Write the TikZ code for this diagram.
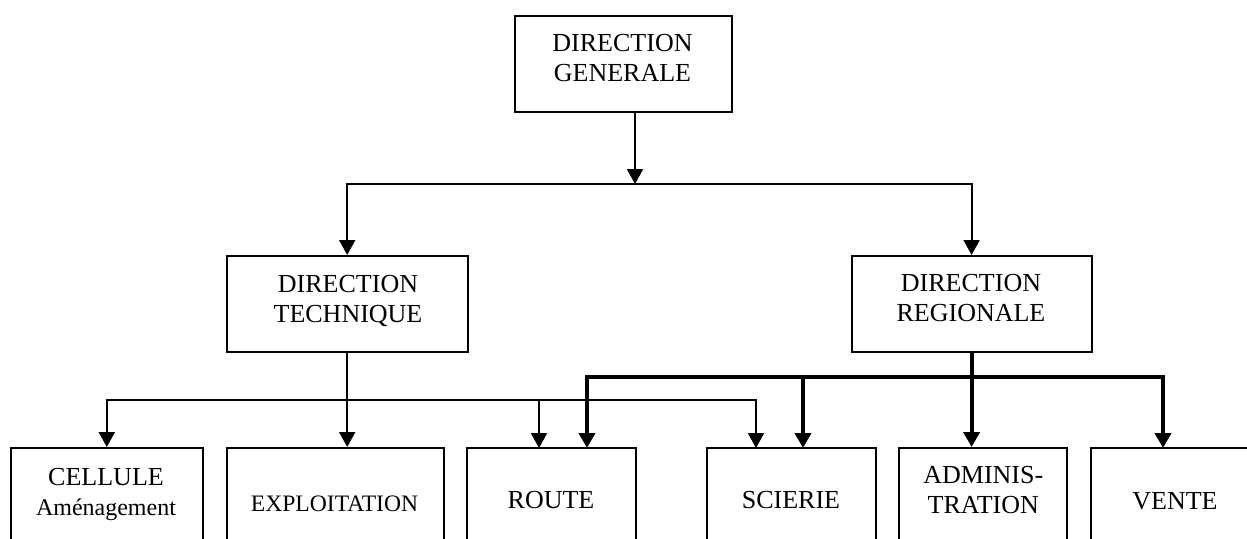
\documentclass[tikz,border=0pt]{standalone}
\usepackage{fontspec}
\setmainfont{Liberation Serif}
\usetikzlibrary{arrows.meta}
\begin{document}
\begin{tikzpicture}[x=1pt,y=-1pt,
  box/.style={draw,line width=2pt,inner sep=0pt},
  lbl/.style={align=center,font=\fontsize{26}{30}\selectfont,inner sep=0pt},
  thinarr/.style={line width=2pt,-{Triangle[length=15pt 0 1,width=16pt 0 1]}},
  thickarr/.style={line width=4pt,-{Triangle[length=15pt 0 1,width=16pt 0 1]}}
]
\useasboundingbox (0,0) rectangle (1247,538);
\clip (0,0) rectangle (1247,538);
% boxes
\node[box,minimum width=217pt,minimum height=96pt] (dg) at (623.5,64) {};
\node[box,minimum width=241pt,minimum height=96pt] (dt) at (347.2,304) {};
\node[box,minimum width=240pt,minimum height=96pt] (dr) at (971.6,304) {};
\node[box,minimum width=192pt,minimum height=110pt] (cel) at (106.8,503) {};
\node[box,minimum width=217pt,minimum height=110pt] (expl) at (335,503) {};
\node[box,minimum width=169pt,minimum height=110pt] (route) at (551.2,503) {};
\node[box,minimum width=169pt,minimum height=110pt] (scie) at (791.2,503) {};
\node[box,minimum width=168pt,minimum height=110pt] (adm) at (983.3,503) {};
\node[box,minimum width=168pt,minimum height=110pt] (vente) at (1175,503) {};
% texts
\node[lbl] (tdg) at (622.5,58) {DIRECTION\\GENERALE};
\node[lbl] (tdt) at (348,300.5) {DIRECTION\\TECHNIQUE};
\node[lbl] (tdr) at (971,298) {DIRECTION\\REGIONALE};
\node[lbl] (tcel) at (106,494.6) {CELLULE\\{\fontsize{24}{30}\selectfont Aménagement}};
\node[lbl,font=\fontsize{23.6}{30}\selectfont] (texp) at (334.5,503.8) {EXPLOITATION};
\node[lbl] (troute) at (551,499.7) {ROUTE};
\node[lbl] (tsc) at (791,500) {SCIERIE};
\node[lbl] (tadm) at (983.3,490.5) {ADMINIS-\\TRATION};
\node[lbl] (tvente) at (1175,500.8) {VENTE};
% coordinates
\coordinate (dgo) at (635,112);
\coordinate (j1) at (635,184);
\coordinate (tb) at (347.2,400);
\coordinate (kb) at (971.6,377);
\coordinate (rA) at (539,448);
\coordinate (sA) at (756,448);
\coordinate (rB) at (587,448);
\coordinate (sB) at (803,448);
\coordinate (vB) at (1163,448);
% top level
\draw[thinarr] (dgo) -- (j1);
\draw[thinarr] (j1) -| (dt.north);
\draw[thinarr] (j1) -| (dr.north);
% technique branch
\draw[thinarr] (dt.south) -- (dt.south |- expl.north);
\draw[thinarr] (tb) -| (cel.north);
\draw[thinarr] (tb) -| (rA);
\draw[thinarr] (tb) -| (sA);
% regionale branch
\draw[thickarr] (dr.south) -- (dr.south |- adm.north);
\draw[thickarr] (kb) -| (rB);
\draw[thickarr] (kb) -| (sB);
\draw[thickarr] (kb) -| (vB);
\end{tikzpicture}
\end{document}
